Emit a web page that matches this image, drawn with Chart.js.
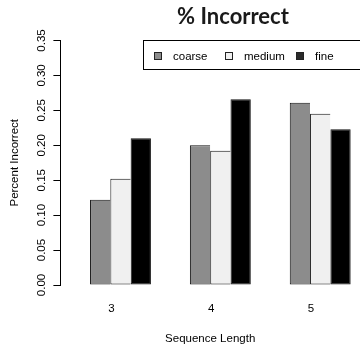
<!DOCTYPE html>
<html>
<head>
<meta charset="utf-8">
<title>% Incorrect</title>
<script src="https://cdn.jsdelivr.net/npm/chart.js@4.4.1/dist/chart.umd.min.js"></script>
<style>
  html, body { margin: 0; padding: 0; background: #fff; overflow: hidden; }
</style>
</head>
<body>
<canvas id="chart" width="360" height="344"></canvas>
<script>
// Data
const title = '% Incorrect';
const categories = ['3', '4', '5'];
const seriesNames = ['coarse', 'medium', 'fine'];
const coarse = [0.122, 0.200, 0.261];
const medium = [0.152, 0.192, 0.245];
const fine = [0.210, 0.266, 0.223];
const yTicks = [0, 0.05, 0.10, 0.15, 0.20, 0.25, 0.30, 0.35];
const xTitle = 'Sequence Length';
const yTitle = 'Percent Incorrect';

const colors = ['#8c8c8c', '#f0f0f0', '#000000'];
const font = '"Liberation Sans", Arial, sans-serif';

Chart.defaults.font.family = font;
Chart.defaults.font.size = 11.5;
Chart.defaults.color = '#000';

// first slot is empty: the R plot leaves a gap left of each group
const datasets = [{ label: '', data: categories.map(() => null), backgroundColor: 'rgba(0,0,0,0)' }];
[coarse, medium, fine].forEach((s, i) => datasets.push({
  label: seriesNames[i],
  data: s,
  backgroundColor: colors[i],
  borderColor: '#111',
  borderWidth: { top: 1, bottom: 1, left: 1, right: i === 2 ? 1 : 0 },
  borderSkipped: false
}));

// title and boxed legend, drawn like R's legend()
const decorations = {
  id: 'decorations',
  afterDraw(chart) {
    const ctx = chart.ctx;
    ctx.save();
    ctx.fillStyle = '#1a1a1a';
    ctx.font = 'bold 22px Lato';
    ctx.textAlign = 'center';
    ctx.textBaseline = 'middle';
    ctx.fillText(title, 233, 17);

    ctx.fillStyle = '#fff';
    ctx.fillRect(143.5, 40.5, 230, 29);
    ctx.strokeStyle = '#000';
    ctx.lineWidth = 1;
    ctx.strokeRect(143.5, 40.5, 230, 29);

    ctx.font = '11.5px ' + font;
    ctx.textAlign = 'left';
    chart.data.datasets.slice(1).forEach((ds, i) => {
      const x = 154.5 + i * 71;
      ctx.fillStyle = i === 2 ? '#2a2a2a' : ds.backgroundColor;
      ctx.fillRect(x, 52.5, 7, 7);
      ctx.strokeStyle = '#222';
      ctx.strokeRect(x, 52.5, 7, 7);
      ctx.fillStyle = '#000';
      ctx.fillText(ds.label, x + 18.5, 56.5);
    });
    ctx.restore();
  }
};

new Chart(document.getElementById('chart'), {
  type: 'bar',
  data: { labels: categories, datasets: datasets },
  options: {
    responsive: false,
    animation: false,
    devicePixelRatio: 1,
    layout: { padding: { top: 40.5, right: 0, bottom: 0, left: 0 } },
    categoryPercentage: 0.813,
    barPercentage: 1,
    plugins: {
      legend: { display: false },
      tooltip: { enabled: false }
    },
    scales: {
      x: {
        grid: { display: false, drawTicks: false },
        border: { display: false },
        ticks: { padding: 17, labelOffset: 1 },
        title: { display: true, text: xTitle, padding: { top: 0, bottom: -1.5 } },
        afterFit: s => { s.height = 59; }
      },
      y: {
        min: 0,
        max: 0.35,
        afterBuildTicks: s => { s.ticks = yTicks.map(v => ({ value: v })); },
        grid: { drawOnChartArea: false, drawTicks: true, tickLength: 7, color: '#000' },
        border: { display: true, color: '#000' },
        ticks: {
          minRotation: 90,
          maxRotation: 90,
          crossAlign: 'center',
          padding: 0,
          callback: v => v.toFixed(2)
        },
        title: { display: true, text: yTitle, padding: { top: 8, bottom: 0 } },
        afterFit: s => { s.width = 60.4; }
      }
    }
  },
  plugins: [decorations]
});
</script>
</body>
</html>
